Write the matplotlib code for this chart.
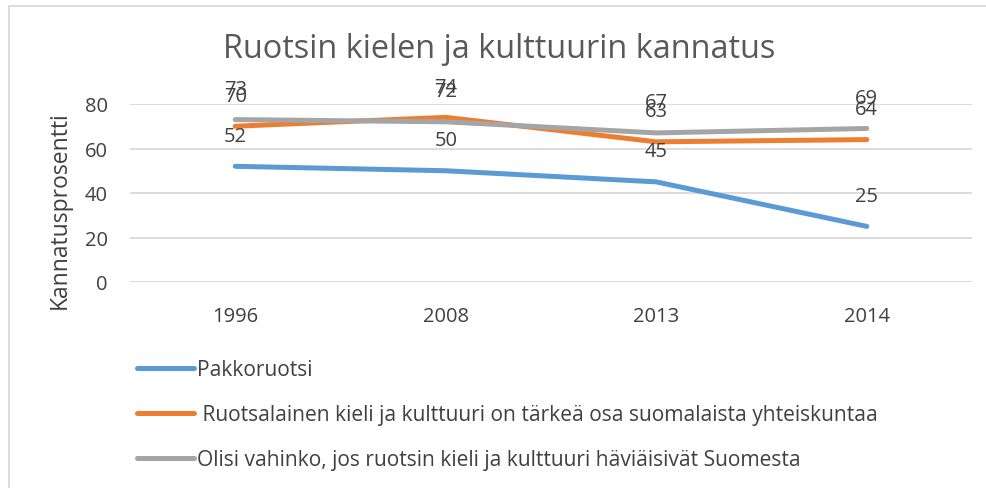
import numpy as np
import matplotlib
matplotlib.use("Agg")
import matplotlib.pyplot as plt
from matplotlib.patches import Rectangle

plt.rcParams['font.family'] = ['Open Sans', 'DejaVu Sans']

# data
years = ['1996', '2008', '2013', '2014']
pakko = [52, 50, 45, 25]
tarkea = [70, 74, 63, 64]
vahinko = [73, 72, 67, 69]
names = ['Pakkoruotsi',
         ' Ruotsalainen kieli ja kulttuuri on tärkeä osa suomalaista yhteiskuntaa',
         'Olisi vahinko, jos ruotsin kieli ja kulttuuri häviäisivät Suomesta']
colors = ['#5B9BD5', '#ED7D31', '#A5A5A5']
series = [pakko, tarkea, vahinko]

txt = '#404040'
grid = '#D9D9D9'

fig = plt.figure(figsize=(9.86, 4.89), dpi=100)
ax = fig.add_axes([130/986, 1-283/489, 842/986, 178/489])

x = np.arange(len(years))
lines = []
for vals, c, n in zip(series, colors, names):
    l, = ax.plot(x, vals, color=c, lw=3.6, solid_capstyle='round', label=n, zorder=3)
    lines.append(l)
    for xi, v in zip(x, vals):
        ax.annotate(str(v), (xi, v), xytext=(0, 22), textcoords='offset points',
                    ha='center', va='center', fontsize=14.5, color=txt,
                    annotation_clip=False, zorder=4)

ax.set_xlim(-0.5, len(years) - 0.5)
ax.set_ylim(0, 80)
ax.set_yticks([0, 20, 40, 60, 80])
ax.set_xticks(x)
ax.set_xticklabels(years)
ax.grid(axis='y', color=grid, lw=1.3)
ax.set_axisbelow(True)
for s in ax.spines.values():
    s.set_visible(False)
ax.tick_params(axis='both', length=0, labelsize=14.5, colors=txt)
ax.tick_params(axis='y', pad=16)
ax.tick_params(axis='x', pad=17)
ax.set_ylabel('Kannatusprosentti', fontsize=16.5, color=txt)
ax.yaxis.set_label_coords(-58/842, (283-210)/178)

fig.text(499/986, 1-50/489, 'Ruotsin kielen ja kulttuurin kannatus',
         ha='center', va='center', fontsize=23.4, color='#595959')

# chart border
fig.patches.append(Rectangle((8.5/986, -0.1), 1.1, 1.1 - 6.5/489,
                             transform=fig.transFigure, fill=False,
                             edgecolor=grid, lw=1.3))

leg = fig.legend(handles=lines, loc='upper left',
                 bbox_to_anchor=(118/986, 1-341/489), frameon=False,
                 fontsize=15.1, handlelength=2.72, handletextpad=0.15,
                 labelspacing=1.15, labelcolor=txt)

fig.savefig('out.png', dpi=100)
